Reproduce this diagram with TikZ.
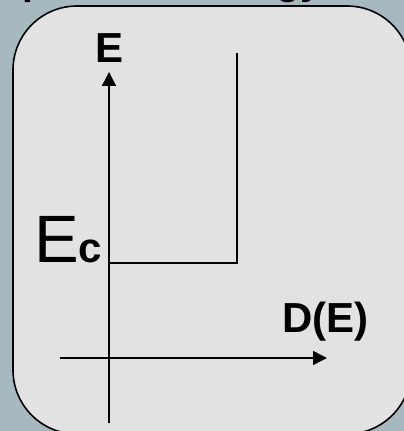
\documentclass[tikz,border=0pt]{standalone}
\usepackage{fontspec}
\setmainfont{Liberation Sans}
\usetikzlibrary{arrows.meta}
\definecolor{slidebg}{HTML}{A6B9BF}
\definecolor{panel}{HTML}{E2E2E2}
\tikzset{
  axis/.style={line width=1.4pt, -{Triangle[length=14pt,width=14pt]}},
  stepline/.style={line width=1.4pt},
  lbl/.style={inner sep=0pt, anchor=base west, font=\fontsize{42}{46}\selectfont\bfseries},
}
\begin{document}
\begin{tikzpicture}[x=1pt,y=1pt]
\useasboundingbox (0,0) rectangle (404,431);
\fill[slidebg] (0,0) rectangle (404,431);
\node[lbl, font=\fontsize{39}{43}\selectfont\bfseries] (title) at (-49,436) {Simple band energy};
\draw[line width=1.6pt, fill=panel, rounded corners=64pt] (13,-3) rectangle (411,425);
% axes
\coordinate (ybot) at (109,8);
\coordinate (ytop) at (109,359);
\coordinate (xl) at (60,73);
\coordinate (xr) at (327,73);
\draw[axis] (ybot) -- (ytop);
\draw[axis] (xl) -- (xr);
% step
\coordinate (s0) at (109,168);
\coordinate (s1) at (237,168);
\coordinate (s2) at (237,378);
\draw[stepline] (s0) -- (s1) -- (s2);
% labels
\node[lbl] (elabel) at (95,368) {E};
\node[lbl] (dlabel) at (282,98) {D(E)};
\node[inner sep=0pt, anchor=base west] (ec) at (34,168) {\fontsize{67}{70}\selectfont E\fontsize{42}{46}\selectfont\bfseries c};
\end{tikzpicture}
\end{document}
